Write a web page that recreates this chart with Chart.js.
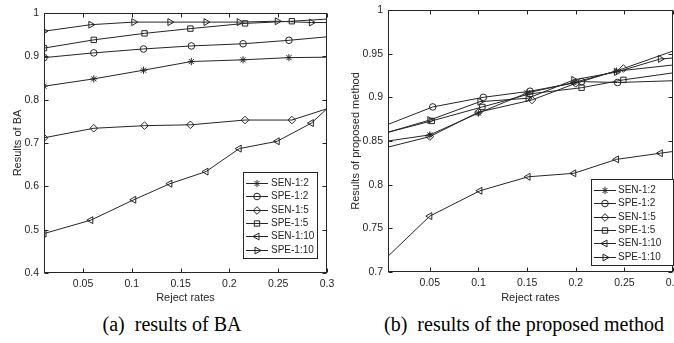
<!DOCTYPE html>
<html>
<head>
<meta charset="utf-8">
<script src="https://cdn.jsdelivr.net/npm/chart.js@4.4.1/dist/chart.umd.min.js"></script>
<style>
  html, body { margin: 0; padding: 0; background: #fff; }
  #wrap { position: relative; width: 674px; height: 343px; overflow: hidden; }
  canvas { position: absolute; top: 0; }
  #left { left: 0; }
  #right { left: 337px; }
  .cap {
    position: absolute; top: 313px; line-height: 23px;
    font-family: "Liberation Serif", "DejaVu Serif", serif; font-size: 20px;
    color: #000; white-space: pre; transform: translateX(-50%);
  }
</style>
</head>
<body>
<div id="wrap">
  <canvas id="left" width="337" height="310"></canvas>
  <canvas id="right" width="337" height="310"></canvas>
  <div class="cap" style="left:172px">(a)  results of BA</div>
  <div class="cap" style="left:524px">(b)  results of the proposed method</div>
</div>
<script>
// ---- (a) results of BA ----
const baRate12  = [0.01, 0.061, 0.112, 0.161, 0.214, 0.261, 0.3];
const baRate15  = [0.01, 0.061, 0.113, 0.16, 0.216, 0.264, 0.3];
const baRate110 = [0.01, 0.058, 0.102, 0.139, 0.176, 0.21, 0.249, 0.284, 0.3];
const baSen12  = [0.831, 0.848, 0.868, 0.888, 0.892, 0.897, 0.898];
const baSpe12  = [0.897, 0.908, 0.917, 0.924, 0.929, 0.937, 0.945];
const baSen15  = [0.712, 0.734, 0.740, 0.742, 0.753, 0.753, 0.779];
const baSpe15  = [0.919, 0.938, 0.953, 0.964, 0.976, 0.981, 0.986];
const baSen110 = [0.491, 0.522, 0.569, 0.606, 0.634, 0.687, 0.704, 0.746, 0.779];
const baSpe110 = [0.958, 0.973, 0.979, 0.979, 0.979, 0.979, 0.981, 0.978, 0.978];
const baYTicks = [0.4, 0.5, 0.6, 0.7, 0.8, 0.9, 1];

// ---- (b) results of the proposed method ----
const pmRateSen12  = [0.007, 0.05, 0.1, 0.15, 0.198, 0.242, 0.3];
const pmRateSpe12  = [0.007, 0.053, 0.105, 0.153, 0.206, 0.243, 0.3];
const pmRateSen15  = [0.007, 0.05, 0.1, 0.155, 0.2, 0.249, 0.3];
const pmRateSpe15  = [0.007, 0.052, 0.104, 0.153, 0.206, 0.249, 0.3];
const pmRate110    = [0.007, 0.05, 0.1015, 0.151, 0.198, 0.242, 0.287, 0.3];
const pmSen12  = [0.850, 0.857, 0.882, 0.905, 0.917, 0.930, 0.937];
const pmSpe12  = [0.869, 0.889, 0.900, 0.907, 0.918, 0.917, 0.919];
const pmSen15  = [0.843, 0.855, 0.883, 0.897, 0.916, 0.933, 0.953];
const pmSpe15  = [0.860, 0.873, 0.889, 0.904, 0.911, 0.920, 0.928];
const pmSen110 = [0.718, 0.764, 0.793, 0.809, 0.813, 0.829, 0.836, 0.838];
const pmSpe110 = [0.860, 0.874, 0.895, 0.899, 0.920, 0.929, 0.944, 0.945];
const pmYTicks = [0.7, 0.75, 0.8, 0.85, 0.9, 0.95, 1];

const xTicks = [0.05, 0.1, 0.15, 0.2, 0.25, 0.3];

const INK = '#262626';
const FONT = '"Liberation Sans", Arial, sans-serif';

const markers = {
  'SEN-1:2':  { pointStyle: 'star', rotation: 0, r: 3.6 },
  'SPE-1:2':  { pointStyle: 'circle', rotation: 0, r: 3.3 },
  'SEN-1:5':  { pointStyle: 'rectRot', rotation: 0, r: 3.8 },
  'SPE-1:5':  { pointStyle: 'rect', rotation: 0, r: 3.8 },
  'SEN-1:10': { pointStyle: 'triangle', rotation: -90, r: 4 },
  'SPE-1:10': { pointStyle: 'triangle', rotation: 90, r: 4 }
};

// hideBelow: points left of this rate sit on the clipped edge and get no marker
function series(label, rates, values, hideBelow) {
  const m = markers[label];
  return {
    label: label,
    data: rates.map((r, i) => ({ x: r, y: values[i] })),
    borderColor: INK,
    borderWidth: 1,
    pointStyle: m.pointStyle,
    pointRotation: m.rotation,
    pointBorderColor: INK,
    pointBackgroundColor: 'rgba(0,0,0,0)',
    pointBorderWidth: 1,
    pointRadius: c => (c.raw && (c.raw.x < hideBelow || c.raw.x >= 0.3)) ? 0 : m.r,
    tension: 0
  };
}

const axesBox = {
  id: 'axesBox',
  afterDatasetsDraw(chart) {
    const { ctx, chartArea: a, scales: { x, y } } = chart;
    const L = Math.round(a.left) + 0.5, R = Math.round(a.right) - 0.5;
    const T = Math.round(a.top) + 0.5, B = Math.round(a.bottom) - 0.5;
    ctx.save();
    ctx.strokeStyle = INK;
    ctx.lineWidth = 1;
    ctx.strokeRect(L, T, R - L, B - T);
    ctx.beginPath();
    x.ticks.forEach(t => {
      const px = Math.round(x.getPixelForValue(t.value)) + 0.5;
      ctx.moveTo(px, B); ctx.lineTo(px, B - 4);
      ctx.moveTo(px, T); ctx.lineTo(px, T + 4);
    });
    y.ticks.forEach(t => {
      const py = Math.round(y.getPixelForValue(t.value)) + 0.5;
      ctx.moveTo(L, py); ctx.lineTo(L + 4, py);
      ctx.moveTo(R, py); ctx.lineTo(R - 4, py);
    });
    ctx.stroke();
    ctx.restore();
  }
};

const boxLegend = {
  id: 'boxLegend',
  afterDraw(chart, args, opts) {
    const ctx = chart.ctx;
    const b = opts.box;
    ctx.save();
    ctx.fillStyle = '#fff';
    ctx.fillRect(b.x, b.y, b.w, b.h);
    ctx.strokeStyle = INK;
    ctx.lineWidth = 1;
    ctx.strokeRect(b.x + 0.5, b.y + 0.5, b.w, b.h);
    ctx.font = '10px ' + FONT;
    ctx.textBaseline = 'middle';
    chart.data.datasets.forEach((ds, i) => {
      const m = markers[ds.label];
      const cy = Math.round(b.y + 11 + i * 13.3) + 0.5;
      ctx.strokeStyle = INK;
      ctx.beginPath();
      ctx.moveTo(b.x + 3, cy);
      ctx.lineTo(b.x + 25, cy);
      ctx.stroke();
      ctx.fillStyle = 'rgba(0,0,0,0)';
      Chart.helpers.drawPoint(ctx, { pointStyle: m.pointStyle, rotation: m.rotation, radius: m.r, borderWidth: 1 }, b.x + 14, cy);
      ctx.fillStyle = INK;
      ctx.fillText(ds.label, b.x + b.textX, cy);
    });
    ctx.restore();
  }
};

function makeChart(id, p) {
  return new Chart(document.getElementById(id), {
    type: 'line',
    data: { datasets: p.datasets },
    plugins: [axesBox, boxLegend],
    options: {
      responsive: false,
      animation: false,
      events: [],
      layout: { padding: { left: 0, right: p.padRight, top: p.padTop, bottom: 0 } },
      plugins: {
        legend: { display: false },
        tooltip: { enabled: false },
        boxLegend: { box: p.legendBox }
      },
      scales: {
        x: {
          type: 'linear', min: p.xmin, max: 0.3,
          afterBuildTicks: s => { s.ticks = xTicks.map(v => ({ value: v })); },
          afterFit: s => { s.height = p.xHeight; s.paddingLeft = 0; s.paddingRight = 0; },
          grid: { display: false, drawTicks: false },
          border: { display: false },
          ticks: { padding: 5, color: INK, font: { family: FONT, size: 10.5 }, maxRotation: 0,
                   callback: v => String(+v.toFixed(2)) },
          title: { display: true, text: 'Reject rates', color: INK, padding: { top: 0, bottom: 5 },
                   font: { family: FONT, size: 11 } }
        },
        y: {
          min: p.yTicks[0], max: 1,
          afterBuildTicks: s => { s.ticks = p.yTicks.map(v => ({ value: v })); },
          afterFit: s => { s.width = p.yWidth; s.paddingTop = 0; s.paddingBottom = 0; },
          grid: { display: false, drawTicks: false },
          border: { display: false },
          ticks: { padding: 5, color: INK, font: { family: FONT, size: 10.5 },
                   callback: v => String(+v.toFixed(2)) },
          title: { display: true, text: p.yTitle, color: INK, padding: { top: p.yTitlePad, bottom: 0 },
                   font: { family: FONT, size: 11 } }
        }
      }
    }
  });
}

makeChart('left', {
  xmin: 0.01, yTicks: baYTicks, yTitle: 'Results of BA',
  padTop: 13, padRight: 10, xHeight: 37, yWidth: 44, yTitlePad: 11,
  legendBox: { x: 243, y: 172, w: 74, h: 86, textX: 28 },
  datasets: [
    series('SEN-1:2', baRate12, baSen12, 0.005),
    series('SPE-1:2', baRate12, baSpe12, 0.005),
    series('SEN-1:5', baRate15, baSen15, 0.005),
    series('SPE-1:5', baRate15, baSpe15, 0.005),
    series('SEN-1:10', baRate110, baSen110, 0.005),
    series('SPE-1:10', baRate110, baSpe110, 0.005)
  ]
});

makeChart('right', {
  xmin: 0.007, yTicks: pmYTicks, yTitle: 'Results of proposed method',
  padTop: 10, padRight: 1, xHeight: 38, yWidth: 51, yTitlePad: 12,
  legendBox: { x: 254, y: 179, w: 82, h: 86, textX: 27 },
  datasets: [
    series('SEN-1:2', pmRateSen12, pmSen12, 0.009),
    series('SPE-1:2', pmRateSpe12, pmSpe12, 0.009),
    series('SEN-1:5', pmRateSen15, pmSen15, 0.009),
    series('SPE-1:5', pmRateSpe15, pmSpe15, 0.009),
    series('SEN-1:10', pmRate110, pmSen110, 0.009),
    series('SPE-1:10', pmRate110, pmSpe110, 0.009)
  ]
});
</script>
</body>
</html>
